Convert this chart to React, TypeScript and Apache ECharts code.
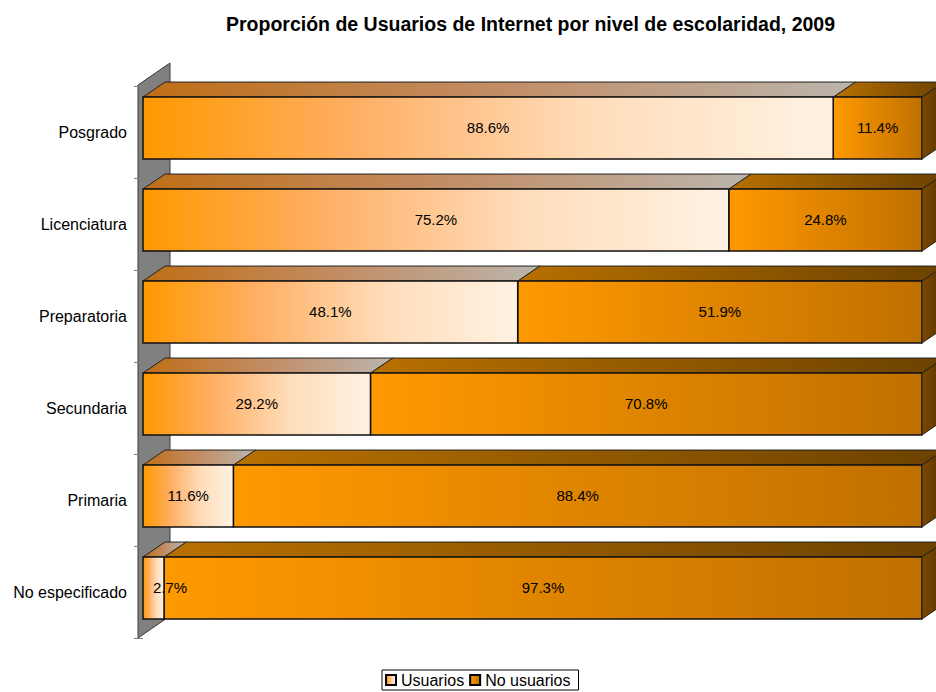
import React, { useEffect, useRef } from "react";
import * as echarts from "echarts";

const categories = ["Posgrado", "Licenciatura", "Preparatoria", "Secundaria", "Primaria", "No especificado"];
const usuarios = [88.6, 75.2, 48.1, 29.2, 11.6, 2.7];
const noUsuarios = [11.4, 24.8, 51.9, 70.8, 88.4, 97.3];
const seriesNames = ["Usuarios", "No usuarios"];
const titleText = "Proporción de Usuarios de Internet por nivel de escolaridad, 2009";

const FONT = "'Liberation Sans', Arial, sans-serif";

const lg = (stops: [number, string][]) =>
  new echarts.graphic.LinearGradient(0, 0, 1, 0, stops.map(([offset, color]) => ({ offset, color })));

const usFront = () => lg([[0, "#FF9900"], [0.3, "#FFAE62"], [0.65, "#FFDDBB"], [1, "#FFF2E2"]]);
const usTop = () => lg([[0, "#BF6E16"], [0.5, "#C28D66"], [1, "#BBB5AC"]]);
const noFront = () => lg([[0, "#FF9900"], [1, "#C07000"]]);
const noTop = () => lg([[0, "#B87000"], [1, "#6C4200"]]);
const noSide = () => lg([[0, "#7A4800"], [1, "#5A3300"]]);

function makeRender(isLast: boolean, front: () => any, top: () => any) {
  return (params: any, api: any) => {
    const start = api.value(0);
    const end = api.value(1);
    const cat = api.value(2);
    const val = api.value(3);
    const p0 = api.coord([start, cat]);
    const p1 = api.coord([end, cat]);
    const bandH = api.size([0, 1])[1];
    const cy = p0[1];
    const x0 = p0[0];
    const x1 = p1[0];
    const ft = cy - 0.38 * bandH;
    const fb = cy + 0.293 * bandH;
    const dx = 0.24 * bandH;
    const dy = 0.163 * bandH;
    const children: any[] = [
      {
        type: "polygon",
        shape: { points: [[x0, ft], [x1, ft], [x1 + dx, ft - dy], [x0 + dx, ft - dy]] },
        style: { fill: top(), stroke: "#222", lineWidth: 1 },
      },
      {
        type: "rect",
        shape: { x: x0, y: ft, width: x1 - x0, height: fb - ft },
        style: { fill: front(), stroke: "#111", lineWidth: 1.5 },
      },
    ];
    if (isLast) {
      children.push({
        type: "polygon",
        shape: { points: [[x1, ft], [x1 + dx, ft - dy], [x1 + dx, fb - dy], [x1, fb]] },
        style: { fill: noSide(), stroke: "#222", lineWidth: 1 },
      });
    }
    const narrow = x1 - x0 < 40;
    children.push({
      type: "text",
      z2: 10,
      style: {
        text: val.toFixed(1) + "%",
        x: narrow ? x0 + 10 : (x0 + x1) / 2,
        y: (ft + fb) / 2,
        align: narrow ? "left" : "center",
        verticalAlign: "middle",
        fill: "#000",
        font: "15px " + FONT,
      },
    });
    return { type: "group", children };
  };
}

export default function App() {
  const ref = useRef<HTMLDivElement>(null);
  useEffect(() => {
    document.body.style.margin = "0";
    const chart = echarts.init(ref.current!, undefined, { renderer: "svg" });
    const usData = usuarios.map((v, i) => [0, v, i, v]);
    const noData = noUsuarios.map((v, i) => [usuarios[i], usuarios[i] + v, i, v]);
    chart.setOption({
      animation: false,
      backgroundColor: "#fff",
      title: {
        text: titleText,
        left: 221,
        top: 9,
        textStyle: { fontFamily: FONT, fontSize: 19.5, fontWeight: "bold", color: "#000" },
      },
      grid: { left: 143, right: 14, top: 86, bottom: 54 },
      xAxis: { type: "value", min: 0, max: 100, show: false },
      yAxis: {
        type: "category",
        data: categories,
        inverse: true,
        offset: 5,
        axisLine: { show: false },
        axisTick: { show: true, length: 9, lineStyle: { color: "#808080", width: 1 } },
        axisLabel: { margin: 11, fontFamily: FONT, fontSize: 16, color: "#000" },
        splitLine: { show: false },
      },
      legend: {
        data: seriesNames,
        left: 382,
        top: 670,
        orient: "horizontal",
        icon: "rect",
        itemWidth: 10,
        itemHeight: 10,
        itemGap: 5,
        padding: [2, 8, 2, 3],
        borderColor: "#000",
        borderWidth: 1,
        textStyle: { fontFamily: FONT, fontSize: 16, color: "#000" },
      },
      graphic: [
        {
          type: "polygon",
          z: 0,
          shape: { points: [[138, 85], [170, 63], [170, 616], [138, 638]] },
          style: { fill: "#808080", stroke: "#3a3a3a", lineWidth: 1 },
          silent: true,
        },
      ],
      series: [
        {
          name: seriesNames[0],
          type: "custom",
          renderItem: makeRender(false, usFront, usTop),
          encode: { x: [0, 1], y: 2 },
          itemStyle: { color: usFront(), borderColor: "#000", borderWidth: 1 },
          data: usData,
          z: 4,
        },
        {
          name: seriesNames[1],
          type: "custom",
          renderItem: makeRender(true, noFront, noTop),
          encode: { x: [0, 1], y: 2 },
          itemStyle: { color: noFront(), borderColor: "#000", borderWidth: 1 },
          data: noData,
          z: 3,
        },
      ],
    });
    return () => chart.dispose();
  }, []);
  return <div ref={ref} style={{ width: 936, height: 692 }} />;
}
